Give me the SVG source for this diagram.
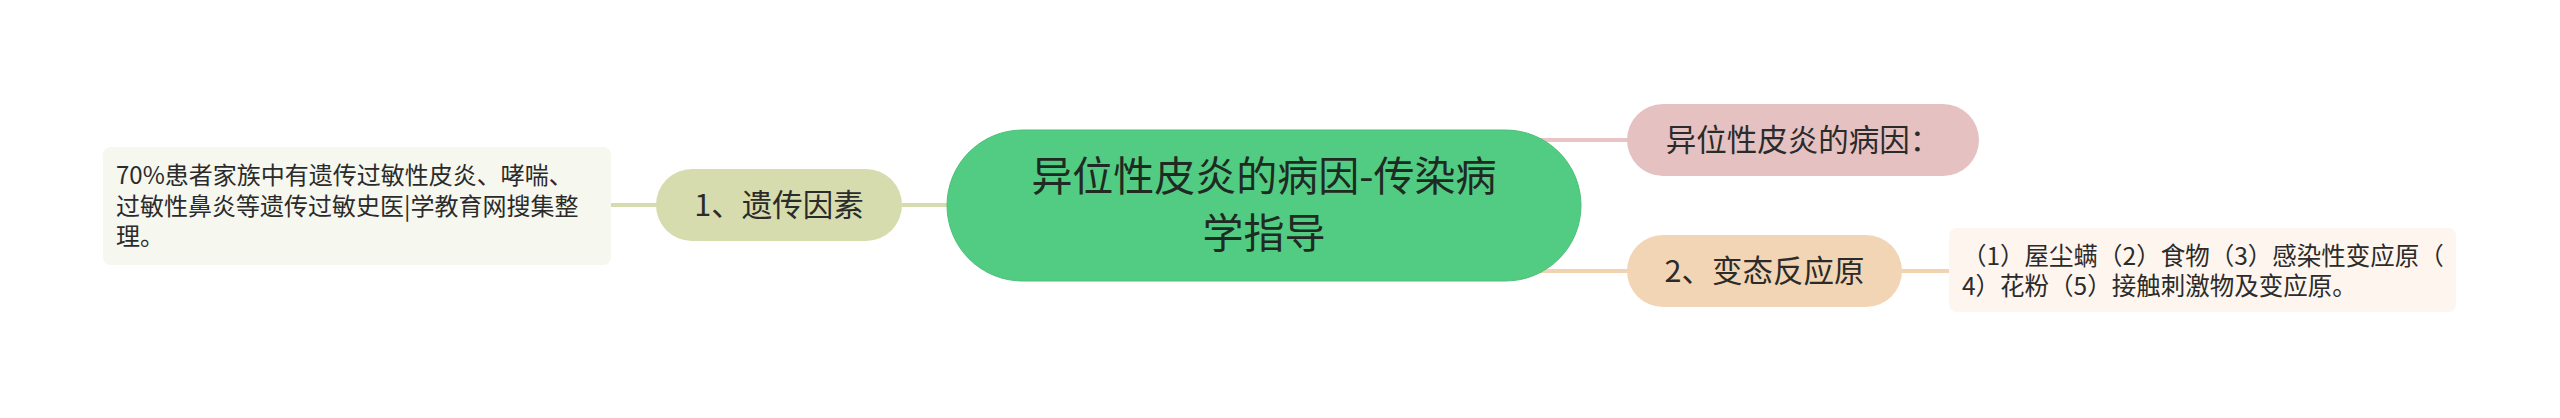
<svg xmlns="http://www.w3.org/2000/svg" width="2560" height="418" viewBox="0 0 2560 418">
<style>
text{font-family:"Noto Sans CJK SC","Noto Sans",sans-serif;fill:#2b2b2b}
.c{stroke-width:4;fill:none;stroke-linecap:butt}
.t30{font-size:30.5px;text-anchor:middle}
.tl{font-size:24px}
.tr{font-size:24.5px}
.t41{font-size:41px;text-anchor:middle;fill:#1f2a22}
</style>
<rect width="2560" height="418" fill="#ffffff"/>
<g id="connectors">
<line class="c" x1="611" y1="205" x2="660" y2="205" stroke="#d7dcae"/>
<line class="c" x1="898" y1="205" x2="960" y2="205" stroke="#d7dcae"/>
<line class="c" x1="1500" y1="140" x2="1632" y2="140" stroke="#e8c4c4"/>
<line class="c" x1="1500" y1="271" x2="1632" y2="271" stroke="#f1d3b1"/>
<line class="c" x1="1898" y1="271" x2="1950" y2="271" stroke="#f1d3b1"/>
</g>
<g id="central">
<rect x="947" y="130" width="634" height="151" rx="75.5" fill="#53cc83" stroke="#4cbf79" stroke-width="1"/>
<text class="t41" x="1264" y="191">异位性皮炎的病因-传染病</text>
<text class="t41" x="1264" y="248">学指导</text>
</g>
<g id="node-genetic">
<rect x="656" y="169" width="246" height="72" rx="36" fill="#d7dcae"/>
<text class="t30" x="779" y="216">1、遗传因素</text>
</g>
<g id="detail-genetic">
<rect x="103" y="147" width="508" height="118" rx="8" fill="#f6f7ee"/>
<text class="tl" x="116" y="184">70%患者家族中有遗传过敏性皮炎、哮喘、</text>
<text class="tl" x="116" y="214.5">过敏性鼻炎等遗传过敏史医|学教育网搜集整</text>
<text class="tl" x="116" y="245">理。</text>
</g>
<g id="node-cause">
<rect x="1627" y="104" width="352" height="72" rx="36" fill="#e6c1c1"/>
<text class="t30" x="1803" y="151">异位性皮炎的病因：</text>
</g>
<g id="node-allergen">
<rect x="1627" y="235" width="275" height="72" rx="36" fill="#f2d5b4"/>
<text class="t30" x="1764.5" y="282">2、变态反应原</text>
</g>
<g id="detail-allergen">
<rect x="1949" y="228" width="507" height="84" rx="8" fill="#fdf5ee"/>
<text class="tr" x="1962" y="265">（1）屋尘螨（2）食物（3）感染性变应原（</text>
<text class="tr" x="1962" y="295">4）花粉（5）接触刺激物及变应原。</text>
</g>
</svg>
